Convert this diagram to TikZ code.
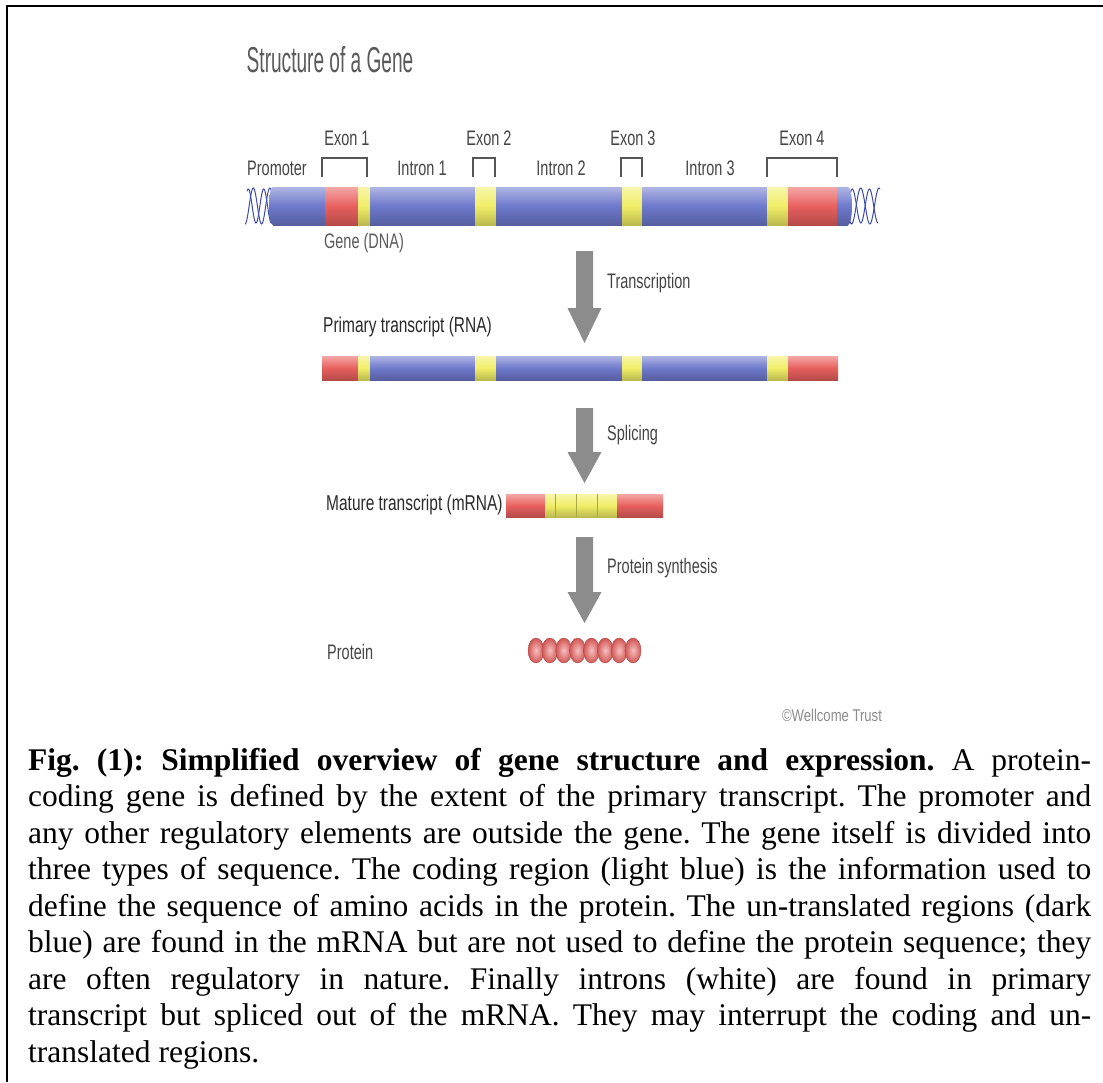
\documentclass[tikz,border=0pt]{standalone}
\usepackage{fontspec}
\setmainfont{Liberation Serif}
\newfontfamily\labfont{Liberation Sans}
\usepackage{graphicx}

\definecolor{dnablue}{HTML}{6E79CC}
\definecolor{dnared}{HTML}{E8605E}
\definecolor{dnayel}{HTML}{F0EE66}
\definecolor{arrgray}{HTML}{8C8C8C}
\definecolor{labgray}{HTML}{454545}
\definecolor{darklab}{HTML}{2A2A2A}
\definecolor{titlegray}{HTML}{5A5A5A}
\definecolor{helixblue}{HTML}{3D4BA8}
\definecolor{bracketgray}{HTML}{555555}

\newcommand\seg[5]{%
  \shade[top color=#5!55!white, bottom color=#5!78!black, middle color=#5] (#1,#3) rectangle (#2,#4);}
\newcommand\nw[1]{\scalebox{0.69}[1]{#1}}
\newcommand\barrow[4]{%
  \fill[arrgray] (#1-8.5,#2) -- (#1+8.5,#2) -- (#1+8.5,#3) -- (#1+17,#3) -- (#1,#4) -- (#1-17,#3) -- (#1-8.5,#3) -- cycle;}
\newcommand\capline[3]{%
  \node[capstyle] (#1) at (28,#2) {\makebox[1063pt][s]{#3}};}

\tikzset{
  lab/.style={font=\labfont\fontsize{21}{21}\selectfont, text=labgray, inner sep=0pt},
  boldlab/.style={font=\labfont\fontsize{21.5}{21.5}\selectfont, text=darklab, inner sep=0pt},
  capstyle/.style={anchor=base west, inner sep=0pt, font=\fontsize{31.5}{36}\selectfont\frenchspacing},
  helix/.style={helixblue, line width=1pt},
  bracket/.style={bracketgray, line width=1.3pt},
}

\begin{document}
\begin{tikzpicture}[x=1pt, y=-1pt]
\useasboundingbox (0,0) rectangle (1103,1082);
\fill[white] (0,0) rectangle (1103,1082);

% frame
\draw[line width=2.5pt] (7,1082) -- (7,6) -- (1103,6);

% title
\node[font=\labfont\fontsize{36}{36}\selectfont, text=titlegray, inner sep=0pt] (title) at (330,60) {\scalebox{0.53}[1]{Structure of a Gene}};

% ---------- DNA ----------
% helices
\draw[helix] plot[domain=0:1, samples=50, smooth] ({245+29*\x},{206+18*sin(630*\x+90)});
\draw[helix] plot[domain=0:1, samples=50, smooth] ({247+27*\x},{206-17*sin(630*\x+60)});
\draw[helix] plot[domain=0:1, samples=50, smooth] ({848+32*\x},{206+18*sin(630*\x+20)});
\draw[helix] plot[domain=0:1, samples=50, smooth] ({848+30*\x},{206-17*sin(630*\x)});
\shade[top color=dnablue!55!white, bottom color=dnablue!78!black, middle color=dnablue] (273,206) ellipse (4 and 19);
\shade[top color=dnablue!55!white, bottom color=dnablue!78!black, middle color=dnablue] (848,206) ellipse (4 and 19);
\seg{273}{325}{187}{225}{dnablue}
\seg{325}{358}{187}{225}{dnared}
\seg{358}{370}{187}{225}{dnayel}
\seg{370}{475}{187}{225}{dnablue}
\seg{475}{496}{187}{225}{dnayel}
\seg{496}{622}{187}{225}{dnablue}
\seg{622}{642}{187}{225}{dnayel}
\seg{642}{767}{187}{225}{dnablue}
\seg{767}{788}{187}{225}{dnayel}
\seg{788}{837}{187}{225}{dnared}
\seg{837}{848}{187}{225}{dnablue}

% brackets
\draw[bracket] (322,177) -- (322,158) -- (367,158) -- (367,177);
\draw[bracket] (473,177) -- (473,158) -- (495,158) -- (495,177);
\draw[bracket] (621,177) -- (621,158) -- (642,158) -- (642,177);
\draw[bracket] (767,177) -- (767,158) -- (837,158) -- (837,177);

% labels
\node[lab] (exon1) at (347,138) {\nw{Exon 1}};
\node[lab] (exon2) at (489,138) {\nw{Exon 2}};
\node[lab] (exon3) at (633,138) {\nw{Exon 3}};
\node[lab] (exon4) at (802,138) {\nw{Exon 4}};
\node[lab] (prom) at (277,168) {\nw{Promoter}};
\node[lab] (int1) at (422,168) {\nw{Intron 1}};
\node[lab] (int2) at (561,168) {\nw{Intron 2}};
\node[lab] (int3) at (710,168) {\nw{Intron 3}};
\node[lab, text=titlegray] (gene) at (364,243) {\nw{Gene (DNA)}};

% ---------- transcription ----------
\barrow{584.5}{251}{308}{343}
\node[lab, anchor=west] (transc) at (607,283) {\nw{Transcription}};

\node[boldlab, anchor=west] (primlab) at (323,327) {\scalebox{0.72}[1]{Primary transcript (RNA)}};
\seg{322}{358}{356}{380}{dnared}
\seg{358}{370}{356}{380}{dnayel}
\seg{370}{475}{356}{380}{dnablue}
\seg{475}{496}{356}{380}{dnayel}
\seg{496}{622}{356}{380}{dnablue}
\seg{622}{642}{356}{380}{dnayel}
\seg{642}{767}{356}{380}{dnablue}
\seg{767}{788}{356}{380}{dnayel}
\seg{788}{838}{356}{380}{dnared}

% ---------- splicing ----------
\barrow{584.5}{408}{452}{483}
\node[lab, anchor=west] (splic) at (607,435) {\nw{Splicing}};

\node[boldlab, anchor=west] (matlab) at (326,505) {\scalebox{0.72}[1]{Mature transcript (mRNA)}};
\seg{506}{545}{494}{517}{dnared}
\seg{545}{617}{494}{517}{dnayel}
\seg{617}{663}{494}{517}{dnared}
\foreach \xx in {555,576,597} \draw[dnayel!70!black, line width=0.5pt] (\xx,494) -- (\xx,517);

% ---------- protein synthesis ----------
\barrow{584.5}{537}{592}{623}
\node[lab, anchor=west] (psyn) at (607,568) {\nw{Protein synthesis}};

\node[lab, anchor=west] (prot) at (327,652) {\nw{Protein}};
\foreach \i in {0,...,7} {
  \shade[inner color=dnared!40!white, outer color=dnared!90!black, draw=dnared!75!black, line width=0.4pt] ({536+13.86*\i},650.5) ellipse (8 and 12.5);
}

\node[font=\labfont\fontsize{17}{17}\selectfont, text=black!45, inner sep=0pt] (wt) at (832,715) {\scalebox{0.77}[1]{\textcopyright Wellcome Trust}};

% ---------- caption ----------
\capline{c1}{770}{\textbf{Fig. (1): Simplified overview of gene structure and expression.} A protein-}
\capline{c2}{806.5}{coding gene is defined by the extent of the primary transcript. The promoter and}
\capline{c3}{843}{any other regulatory elements are outside the gene. The gene itself is divided into}
\capline{c4}{879.5}{three types of sequence. The coding region (light blue) is the information used to}
\capline{c5}{916}{define the sequence of amino acids in the protein. The un-translated regions (dark}
\capline{c6}{952.5}{blue) are found in the mRNA but are not used to define the protein sequence; they}
\capline{c7}{989}{are often regulatory in nature. Finally introns (white) are found in primary}
\capline{c8}{1025.5}{transcript but spliced out of the mRNA. They may interrupt the coding and un-}
\node[capstyle] (c9) at (28,1062) {translated regions.};
\end{tikzpicture}
\end{document}
